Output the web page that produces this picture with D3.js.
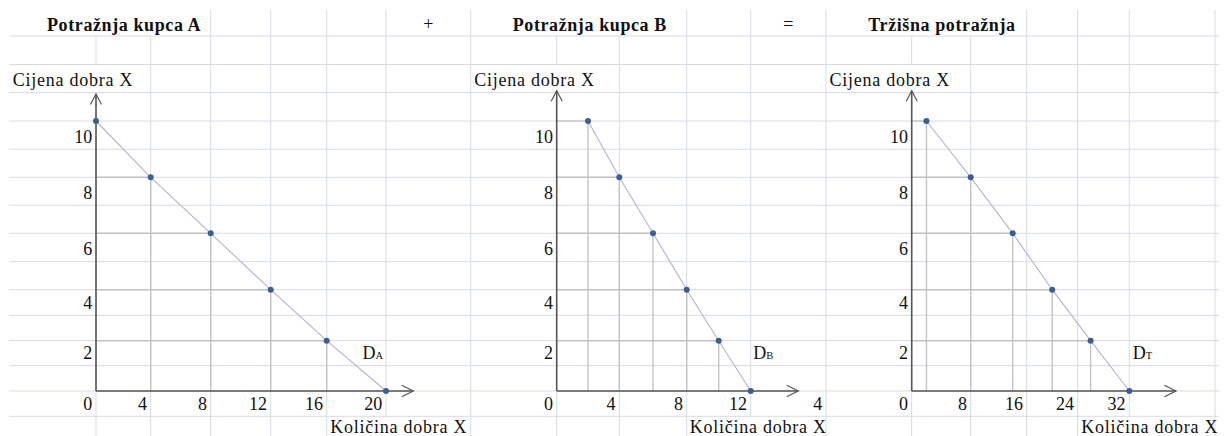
<!DOCTYPE html>
<html><head><meta charset="utf-8">
<script src="https://cdn.jsdelivr.net/npm/d3@7"></script>
<style>
html,body{margin:0;padding:0;background:#fff;}
svg{display:block;}
svg text{font-family:'Liberation Serif','Times New Roman',Tinos,'DejaVu Serif',serif;fill:#111;}
</style></head>
<body><svg id="c" width="1226" height="436"></svg>
<script>
// ---- data ----
const prices = [10, 8, 6, 4, 2, 0];
const qtyA = [0, 4, 8, 12, 16, 20];
const qtyB = [2, 4, 6, 8, 10, 12];
const qtyT = [2, 8, 14, 20, 26, 32];
const priceTicks = [0, 2, 4, 6, 8, 10];
const ticksA = [0, 4, 8, 12, 16, 20];
const ticksB = [0, 4, 8, 12, 16];
const tickLabelsB = ["0", "4", "8", "12", "4"];
const ticksT = [0, 8, 16, 24, 32];
const titles = ["Potražnja kupca A", "Potražnja kupca B", "Tržišna potražnja"];
const operators = ["+", "="];
const yTitle = "Cijena dobra X";
const xTitle = "Količina dobra X";
const curveSubs = ["A", "B", "T"];

// ---- spreadsheet layout ----
const FONT = "'Liberation Serif','Times New Roman',Tinos,'DejaVu Serif',serif";
const ROWS = [36, 64.5, 92.7, 121, 149.3, 177.3, 205.3, 233.3, 261.7, 289.7, 315.3, 340.7, 365.7, 391, 416.3, 441];
const COLS = [96, 150.7, 210.7, 270.7, 326.7, 386, 470.7, 556.7, 619.3, 686.7, 750.7, 826, 911.7, 970.7, 1026.7, 1077.7, 1129.3, 1215];
const TOP = 10, LEFT = 9, RIGHT = 1219;
const gaps = [
  [TOP, 36, [96, 150.7, 556.7, 619.3, 911.7, 970.7]],
  [64.5, 92.7, [96, 556.7, 911.7]],
  [416.3, 441, [386, 750.7, 1129.3]]
];

const svg = d3.select("#c");
const grid = svg.append("g").attr("stroke", "#d6dbe6").attr("stroke-width", 1);
ROWS.forEach(r => grid.append("line").attr("x1", LEFT).attr("x2", RIGHT).attr("y1", r).attr("y2", r));
const bands = [TOP].concat(ROWS);
COLS.forEach(c => {
  for (let i = 0; i < bands.length - 1; i++) {
    const t = bands[i], b = bands[i + 1];
    const g = gaps.find(d => d[0] === t);
    if (g && g[2].includes(c)) continue;
    grid.append("line").attr("x1", c).attr("x2", c).attr("y1", t).attr("y2", Math.min(b, 436));
  }
});

function txt(sel, size) {
  return sel.append("text").attr("font-family", FONT).attr("font-size", size);
}

// ---- scales ----
const y = d3.scaleLinear().domain(priceTicks).range([ROWS[13], ROWS[11], ROWS[9], ROWS[7], ROWS[5], ROWS[3]]);
const panels = [
  {x: d3.scaleLinear().domain(ticksA).range(COLS.slice(0, 6)), q: qtyA, ticks: ticksA, labels: ticksA.map(String),
   title: titles[0], tx: 47, ytx: LEFT + 3.7, xtx: COLS[4] + 3.5, tipX: 413.3, tipY: 94, sub: curveSubs[0], dAnchor: "end", dx: -3},
  {x: d3.scaleLinear().domain(ticksB).range(COLS.slice(7, 12)), q: qtyB, ticks: ticksB, labels: tickLabelsB,
   title: titles[1], tx: 512.7, ytx: COLS[6] + 3.6, xtx: COLS[9] + 3, tipX: 798.3, tipY: 90.7, sub: curveSubs[1], dAnchor: "start", dx: 2.6},
  {x: d3.scaleLinear().domain(ticksT).range(COLS.slice(12, 17)), q: qtyT, ticks: ticksT, labels: ticksT.map(String),
   title: titles[2], tx: 868.3, ytx: COLS[11] + 3.5, xtx: COLS[15] + 3.5, tipX: 1176, tipY: 90.7, sub: curveSubs[2], dAnchor: "start", dx: 3.4}
];

function nextRow(v) { const i = ROWS.findIndex(r => Math.abs(r - v) < 1); return ROWS[i + 1]; }

panels.forEach(p => {
  const g = svg.append("g");
  const x0 = p.x(0), y0 = y(0);
  txt(g, 18).attr("x", p.tx).attr("y", 30.7).attr("font-weight", "bold").attr("letter-spacing", 0.6).text(p.title);
  txt(g, 18).attr("x", p.ytx).attr("y", 86).attr("letter-spacing", 0.75).text(yTitle);
  txt(g, 18).attr("x", p.xtx).attr("y", 433).attr("letter-spacing", 0.75).text(xTitle);
  priceTicks.filter(v => v > 0).forEach(v => {
    txt(g, 18).attr("x", x0 - 3.8).attr("y", nextRow(y(v)) - 6.5).attr("text-anchor", "end").text(v);
  });
  p.ticks.forEach((v, i) => {
    txt(g, 18).attr("x", p.x(v) - 3.8).attr("y", 410).attr("text-anchor", "end").text(p.labels[i]);
  });
  const drop = g.append("g").attr("stroke", "#c4c4c4").attr("stroke-width", 1.4);
  prices.forEach((pr, i) => {
    const px = p.x(p.q[i]), py = y(pr);
    if (px > x0 + 0.5) drop.append("line").attr("x1", px).attr("x2", px).attr("y1", py).attr("y2", y0);
    if (py < y0 - 0.5) drop.append("line").attr("x1", x0).attr("x2", px).attr("y1", py).attr("y2", py);
  });
  const ax = g.append("g").attr("stroke", "#555").attr("stroke-width", 1.6).attr("fill", "none");
  ax.append("line").attr("x1", x0).attr("x2", x0).attr("y1", y0).attr("y2", p.tipY);
  ax.append("line").attr("x1", x0).attr("x2", p.tipX).attr("y1", y0).attr("y2", y0);
  ax.append("path").attr("d", `M${x0 - 5.5},${p.tipY + 10.5}L${x0},${p.tipY}L${x0 + 5.5},${p.tipY + 10.5}`).attr("stroke-width", 1.2);
  ax.append("path").attr("d", `M${p.tipX - 11.6},${y0 - 5.8}L${p.tipX},${y0}L${p.tipX - 11.6},${y0 + 5.8}`).attr("stroke-width", 1.2);
  const line = d3.line().x((d, i) => p.x(p.q[i])).y(d => y(d));
  g.append("path").datum(prices).attr("d", line).attr("fill", "none").attr("stroke", "#b8aed8").attr("stroke-width", 1.1);
  g.selectAll("circle.pt").data(prices).join("circle").attr("class", "pt")
    .attr("cx", (d, i) => p.x(p.q[i])).attr("cy", d => y(d)).attr("r", 3).attr("fill", "#3c5f92");
  const t = txt(g, 18).attr("x", p.x(p.q[5]) + p.dx).attr("y", y(2) + 18).attr("text-anchor", p.dAnchor);
  t.append("tspan").text("D");
  t.append("tspan").attr("font-size", 10.5).text(p.sub);
});

txt(svg, 18).attr("x", (COLS[5] + COLS[6]) / 2).attr("y", 30).attr("text-anchor", "middle").text(operators[0]);
txt(svg, 18).attr("x", (COLS[10] + COLS[11]) / 2).attr("y", 30).attr("text-anchor", "middle").text(operators[1]);
</script></body></html>
